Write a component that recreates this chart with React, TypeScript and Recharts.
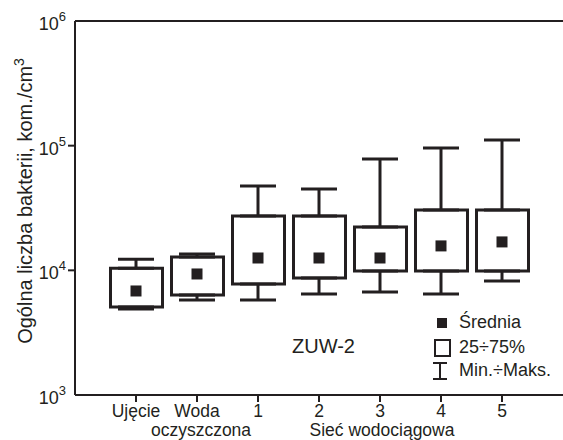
import React from "react";
import { ComposedChart, Bar, Scatter, ErrorBar, XAxis, YAxis, ReferenceLine } from "recharts";

// ZUW-2: bacteria counts per sampling point (log scale)
const categories = ["Ujęcie", "Woda", "1", "2", "3", "4", "5"];
const minValues = [4900, 5780, 5780, 6460, 6700, 6460, 8200];
const q1Values = [5080, 6350, 7770, 8690, 9890, 9890, 9890];
const meanValues = [6830, 9350, 12560, 12560, 12560, 15700, 16900];
const q3Values = [10400, 12800, 27300, 27300, 22300, 30500, 30500];
const maxValues = [12300, 13500, 47500, 44900, 78200, 95700, 111000];
const yTicks = [1000, 10000, 100000, 1000000];
const secondLine: Record<string, string> = { Woda: "oczyszczona", "3": "Sieć wodociągowa" };

const INK = "#231f20";
const FONT = "'Liberation Sans', Arial, sans-serif";

const rows = categories.map((name, i) => ({
  name,
  min: minValues[i],
  q1: q1Values[i],
  mean: meanValues[i],
  q3: q3Values[i],
  max: maxValues[i],
  upErr: [0, maxValues[i] - q3Values[i]],
  downErr: [q1Values[i] - minValues[i], 0],
}));

const XTick = (props: any) => {
  const { x, payload } = props;
  const label = payload.value as string;
  const sub = secondLine[label];
  return (
    <g>
      <line x1={x} x2={x} y1={395} y2={402} stroke={INK} strokeWidth={2} />
      <text x={x} y={416.5} textAnchor="middle" fontSize={17.5} fill={INK} fontFamily={FONT}>
        {label}
      </text>
      {sub && (
        <text x={label === "Woda" ? x + 4 : x + 2} y={436} textAnchor="middle" fontSize={17.5} fill={INK} fontFamily={FONT}>
          {sub}
        </text>
      )}
    </g>
  );
};

const YTick = (props: any) => {
  const { y, payload } = props;
  const exp = Math.round(Math.log10(payload.value));
  const inner = exp === 4 || exp === 5;
  return (
    <g>
      {inner && <line x1={68} x2={75} y1={y} y2={y} stroke={INK} strokeWidth={2} />}
      <text x={66} y={y + 9} textAnchor="end" fontSize={18} fill={INK} fontFamily={FONT}>
        10
        <tspan dy={-9} fontSize={13}>
          {exp}
        </tspan>
      </text>
    </g>
  );
};

const MeanMark = (props: any) => {
  const { cx, cy } = props;
  return <rect x={cx - 5.5} y={cy - 5.5} width={11} height={11} fill={INK} />;
};

const NoMark = () => <g />;

export default function App() {
  return (
    <div style={{ position: "relative", width: 563, height: 440, background: "#fff" }}>
      <style>{`body{margin:0;}`}</style>
      <ComposedChart width={563} height={440} data={rows} margin={{ top: 21, right: 0, bottom: 0, left: 0 }}>
        <XAxis
          dataKey="name"
          height={45}
          padding={{ left: 30.5, right: 30.5 }}
          axisLine={{ stroke: INK, strokeWidth: 2 }}
          tickLine={false}
          tick={<XTick />}
          interval={0}
        />
        <YAxis
          width={75}
          scale="log"
          domain={[1000, 1000000]}
          ticks={yTicks}
          allowDataOverflow
          axisLine={{ stroke: INK, strokeWidth: 2 }}
          tickLine={false}
          tick={<YTick />}
        />
        <ReferenceLine y={1000000} stroke={INK} strokeWidth={2} />
        <Scatter dataKey="q3" shape={<NoMark />} isAnimationActive={false}>
          <ErrorBar dataKey="upErr" direction="y" width={18} stroke={INK} strokeWidth={3} />
        </Scatter>
        <Scatter dataKey="q1" shape={<NoMark />} isAnimationActive={false}>
          <ErrorBar dataKey="downErr" direction="y" width={18} stroke={INK} strokeWidth={3} />
        </Scatter>
        <Bar
          dataKey={(d: any) => [d.q1, d.q3]}
          barSize={52}
          fill="#fff"
          stroke={INK}
          strokeWidth={3}
          isAnimationActive={false}
        />
        <Scatter dataKey="mean" shape={<MeanMark />} isAnimationActive={false} />
      </ComposedChart>
      <svg
        width={563}
        height={440}
        style={{ position: "absolute", left: 0, top: 0, pointerEvents: "none" }}
        fontFamily={FONT}
        fill={INK}
      >
        <text transform="translate(32,201) rotate(-90)" textAnchor="middle" fontSize={20}>
          Ogólna liczba bakterii, kom./cm
          <tspan dy={-8} fontSize={14}>
            3
          </tspan>
        </text>
        <text x={292} y={353} fontSize={20}>
          ZUW-2
        </text>
        <rect x={437} y={318} width={10} height={10} fill={INK} />
        <text x={459} y={328} fontSize={18}>
          Średnia
        </text>
        <rect x={435} y={340} width={15} height={16} fill="none" stroke={INK} strokeWidth={2} />
        <text x={459} y={353} fontSize={18}>
          25÷75%
        </text>
        <line x1={433} x2={447} y1={363} y2={363} stroke={INK} strokeWidth={2} />
        <line x1={440} x2={440} y1={363} y2={379} stroke={INK} strokeWidth={2} />
        <line x1={433} x2={447} y1={379} y2={379} stroke={INK} strokeWidth={2} />
        <text x={459} y={376} fontSize={18}>
          Min.÷Maks.
        </text>
      </svg>
    </div>
  );
}
